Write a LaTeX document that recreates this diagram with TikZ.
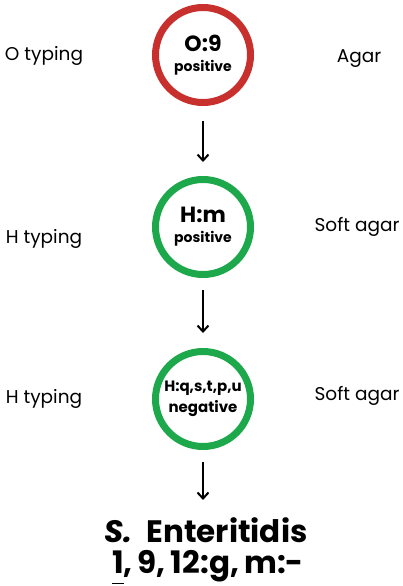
\documentclass[tikz,border=0pt]{standalone}
\usepackage{fontspec}
\setmainfont{Poppins}
\usetikzlibrary{arrows.meta}
\definecolor{typred}{RGB}{200,48,46}
\definecolor{typgreen}{RGB}{30,168,76}
\newcommand{\ring}[5]{{\fontsize{#3}{#3}\selectfont\bfseries #1}\\[#5]{\fontsize{#4}{#4}\selectfont\bfseries #2}}

\begin{document}
\begin{tikzpicture}[x=1pt, y=-1pt,
    side/.style={font=\fontsize{18.5}{20}\selectfont, inner sep=0, anchor=base},
    test/.style={circle, line width=7pt, minimum size=95pt, inner sep=0, align=center}]
  \useasboundingbox (0, 0) rectangle (402, 586);

  \node[test, draw=typred]
    (o9) at (203, 55) {\ring{O:9}{positive}{22}{14}{8pt}};

  \node[test, draw=typgreen]
    (hm) at (203, 227) {\ring{H:m}{positive}{22}{14}{8pt}};

  \node[test, draw=typgreen]
    (hq) at (203, 399) {\ring{H:q,s,t,p,u}{negative}{15}{15}{4pt}};

  \node[side] (otype) at (44, 61) {O typing};
  \node[side] (htype1) at (44, 243) {H typing};
  \node[side] (htype2) at (44, 403) {H typing};

  \node[side] (agar) at (359, 63) {Agar};
  \node[side] (soft1) at (357, 231) {Soft agar};
  \node[side] (soft2) at (357, 400) {Soft agar};

  \node[inner sep=0, anchor=base, font=\fontsize{31}{31}\selectfont\bfseries]
    (serovar) at (206, 542) {\textit{S.}\hspace{0.45em}Enteritidis};
  \node[inner sep=0, anchor=base, font=\fontsize{31}{31}\selectfont\bfseries]
    (formula) at (208, 573) {\underline{1\vphantom{g}},\,9,\,12:g,\,m:-};

  \draw[-{Straight Barb[length=6pt, width=11pt]}, line width=2pt]
    (o9) edge[shorten <=15pt, shorten >=14pt] (hm)
    (hm) edge[shorten <=12pt, shorten >=15pt] (hq);

  \draw[-{Straight Barb[length=6pt, width=11pt]}, line width=2pt, shorten <=12pt, shorten >=17pt]
    (hq) -- (hq |- serovar.north);
\end{tikzpicture}
\end{document}
